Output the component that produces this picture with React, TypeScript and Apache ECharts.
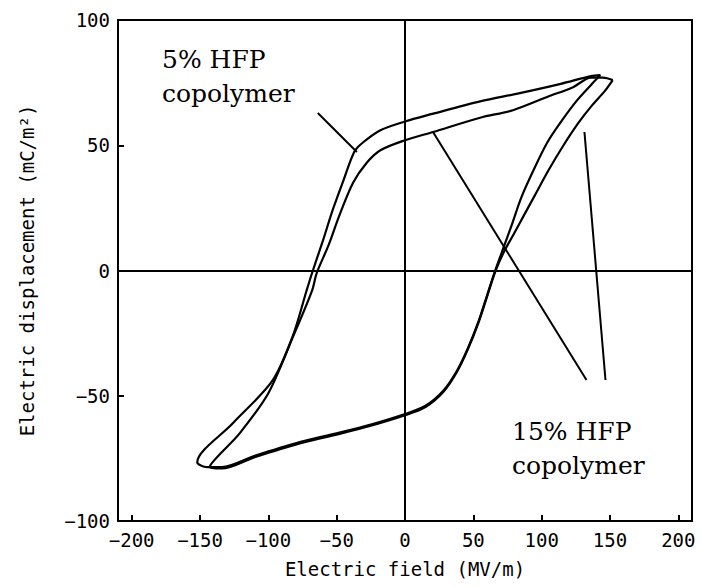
import React, { useEffect, useRef } from "react";
import * as echarts from "echarts";

// Tick values
const X_TICKS = [-200, -150, -100, -50, 0, 50, 100, 150, 200];
const Y_TICKS = [-100, -50, 0, 50, 100];

// 5% HFP copolymer loop: upper (descending) branch, then lower (ascending) branch
const LOOP_5_UPPER: [number, number][] = [
  [143, 78], [136, 77.6], [114, 74.5], [84, 70.8], [55, 67.5], [20, 62.5], [0, 59.5],
  [-18, 56], [-31, 51], [-37, 47.5], [-45, 36], [-53, 24], [-60, 12], [-68, -1],
  [-72, -8], [-82, -26], [-97, -44], [-126, -61], [-152, -76.5],
];
const LOOP_5_LOWER: [number, number][] = [
  [-145, -78.5], [-134, -78.5], [-110, -74], [-77, -68.5], [-50, -65], [-25, -61.5],
  [0, -57.3], [15, -54], [28, -48], [38, -40], [46, -31], [54, -20], [60, -10], [66, 0],
  [72, 9], [78, 18], [85, 29], [94, 40], [104, 51], [115, 60], [126, 68], [136, 74], [143, 78],
];

// 15% HFP copolymer loop
const LOOP_15_UPPER: [number, number][] = [
  [152, 76], [145, 77], [136, 77], [123, 73.2], [104, 69.3], [79, 64], [55, 61],
  [20.5, 55.3], [0, 52], [-18, 48], [-28, 43], [-38, 35], [-48, 22], [-56, 10],
  [-64.6, -1], [-68, -8], [-82, -26.5], [-100, -49], [-121, -65], [-143, -78.5],
];
const LOOP_15_LOWER: [number, number][] = [
  [-134, -79], [-110, -74.5], [-77, -69], [-50, -65.5], [-25, -62], [0, -57.8],
  [15, -54.5], [28, -48.5], [38, -40.5], [46, -31.5], [54, -20.5], [60, -10.5], [66, -0.5],
  [72, 7], [79, 14], [87, 22], [95, 30], [105, 40], [116, 50], [127, 59], [137, 66],
  [146, 71.5], [152, 76],
];

// Annotation leader lines (data coordinates)
const LEADER_5: [number, number][][] = [[[-63.8, 62.9], [-35.2, 47.3]]];
const LEADER_15: [number, number][][] = [
  [[20.5, 55.3], [132.8, -43.7]],
  [[131.3, 55.3], [146.7, -43.7]],
];

const LABEL_5 = ["5% HFP", "copolymer"];
const LABEL_15 = ["15% HFP", "copolymer"];

const MONO = '"DejaVu Sans Mono", monospace';
const SERIF = '"DejaVu Serif", serif';

const fmt = (v: number) => String(v).replace("-", "\u2212");

export default function App() {
  const ref = useRef<HTMLDivElement>(null);

  useEffect(() => {
    if (!ref.current) return;
    const chart = echarts.init(ref.current, undefined, { renderer: "svg" });
    const lineStyle = { color: "#000", width: 2.2 };
    const mlStyle = { color: "#000", width: 2, type: "solid" as const };
    const toPairs = (arr: [number, number][][]) =>
      arr.map(([a, b]) => [{ coord: a }, { coord: b }]);

    chart.setOption({
      animation: false,
      backgroundColor: "#fff",
      grid: {
        left: 118,
        right: 10,
        top: 20,
        bottom: 66,
        show: true,
        borderColor: "#000",
        borderWidth: 2,
        containLabel: false,
      },
      xAxis: {
        type: "value",
        min: -210,
        max: 210,
        name: "Electric field (MV/m)",
        nameLocation: "middle",
        nameGap: 38,
        nameTextStyle: { fontFamily: MONO, fontSize: 19, color: "#000" },
        axisLine: { show: true, onZero: false, lineStyle: { color: "#000", width: 2 } },
        axisTick: { show: true, inside: true, length: 6, customValues: X_TICKS, lineStyle: { color: "#000", width: 2 } },
        axisLabel: { customValues: X_TICKS, formatter: fmt, fontFamily: MONO, fontSize: 19, color: "#000", margin: 9 },
        splitLine: { show: false },
      },
      yAxis: {
        type: "value",
        min: -100,
        max: 100,
        name: "Electric displacement (mC/m\u00b2)",
        nameLocation: "middle",
        nameRotate: 90,
        nameGap: 82,
        nameTextStyle: { fontFamily: MONO, fontSize: 19, color: "#000" },
        axisLine: { show: true, onZero: false, lineStyle: { color: "#000", width: 2 } },
        axisTick: { show: true, inside: true, length: 6, customValues: Y_TICKS, lineStyle: { color: "#000", width: 2 } },
        axisLabel: { customValues: Y_TICKS, formatter: fmt, fontFamily: MONO, fontSize: 19, color: "#000", margin: 8 },
        splitLine: { show: false },
      },
      series: [
        {
          name: "5% HFP copolymer",
          type: "line",
          data: [...LOOP_5_UPPER, ...LOOP_5_LOWER],
          smooth: 0.3,
          showSymbol: false,
          lineStyle,
          markLine: {
            silent: true,
            symbol: ["none", "none"],
            label: { show: false },
            lineStyle: mlStyle,
            data: [{ xAxis: 0 }, { yAxis: 0 }, ...toPairs(LEADER_5)],
          },
        },
        {
          name: "15% HFP copolymer",
          type: "line",
          data: [...LOOP_15_UPPER, ...LOOP_15_LOWER],
          smooth: 0.3,
          showSymbol: false,
          lineStyle,
          markLine: {
            silent: true,
            symbol: ["none", "none"],
            label: { show: false },
            lineStyle: mlStyle,
            data: toPairs(LEADER_15),
          },
        },
      ],
      graphic: [
        {
          type: "text",
          left: 162,
          top: 42,
          style: { text: LABEL_5.join("\n"), font: `25px ${SERIF}`, fill: "#000", lineHeight: 34 },
        },
        {
          type: "text",
          left: 512,
          top: 414,
          style: { text: LABEL_15.join("\n"), font: `25px ${SERIF}`, fill: "#000", lineHeight: 34 },
        },
      ],
    });
    return () => chart.dispose();
  }, []);

  return (
    <div
      ref={ref}
      style={{ position: "fixed", left: 0, top: 0, width: 702, height: 587, background: "#fff" }}
    />
  );
}
